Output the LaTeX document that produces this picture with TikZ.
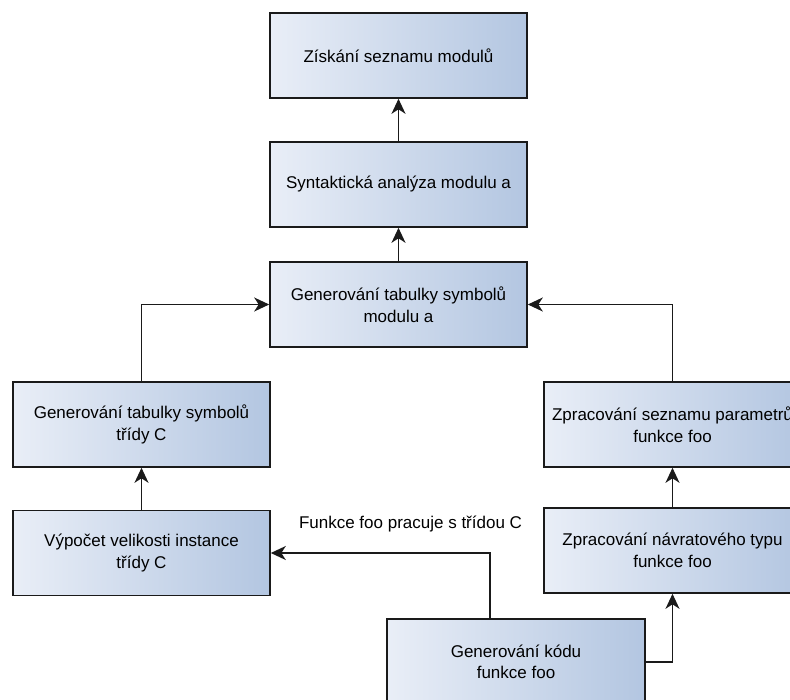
\documentclass[tikz,border=0pt]{standalone}
\usepackage{fontspec}
\setmainfont{Liberation Sans}
\usetikzlibrary{arrows.meta,calc}
\definecolor{boxL}{HTML}{E9EEF7}
\definecolor{boxR}{HTML}{B3C6E1}
\definecolor{lineC}{HTML}{1A1A1A}
\begin{document}
\begin{tikzpicture}[x=1pt,y=-1pt,
  procbox/.style={draw=lineC, line width=1.6pt, left color=boxL, right color=boxR,
    minimum width=257pt, minimum height=85pt, inner sep=0pt, align=center,
    font=\fontsize{17}{21.5}\selectfont, text=black},
  conn/.style={draw=lineC, line width=1.6pt, -{Stealth[length=15pt,width=14pt,inset=4.5pt]}},
  lbl/.style={font=\fontsize{17}{21.5}\selectfont, text=black, inner sep=0pt}
]
\clip (0,0) rectangle (790,700);
\fill[white] (0,0) rectangle (790,700);

\node[procbox] (n1) at (398.5,55.5) {Získání seznamu modulů};
\node[procbox] (n2) at (398.5,184.5) {Syntaktická analýza modulu a};
\node[procbox] (n3) at (398.5,304.5) {Generování tabulky symbolů\\modulu a};
\node[procbox] (nA) at (141.5,424.5) {Generování tabulky symbolů\\třídy C};
\node[procbox] (nB) at (141.5,553) {Výpočet velikosti instance\\třídy C};
\node[procbox] (nC) at (672.5,424.5) {Zpracování seznamu parametrů\\funkce foo};
\node[procbox] (nD) at (672.5,550.5) {Zpracování návratového typu\\funkce foo};
\node[procbox, minimum width=258pt, minimum height=86pt] (nE) at (516,662) {Generování kódu\\funkce foo};

\node[lbl] (lab) at (410.5,524) {Funkce foo pracuje s třídou C};

\draw[conn] (n2.north) -- (n1.south);
\draw[conn] (n3.north) -- (n2.south);
\draw[conn] (nA.north) |- (n3.west);
\draw[conn] (nC.north) |- (n3.east);
\draw[conn] (nB.north) -- (nA.south);
\draw[conn] (nD.north) -- (nC.south);
\coordinate (eTop) at ($(nE.north)+(-26,0)$);
\draw[conn] (eTop) |- (nB.east);
\draw[conn] (nE.east) -| (nD.south);
\end{tikzpicture}
\end{document}
